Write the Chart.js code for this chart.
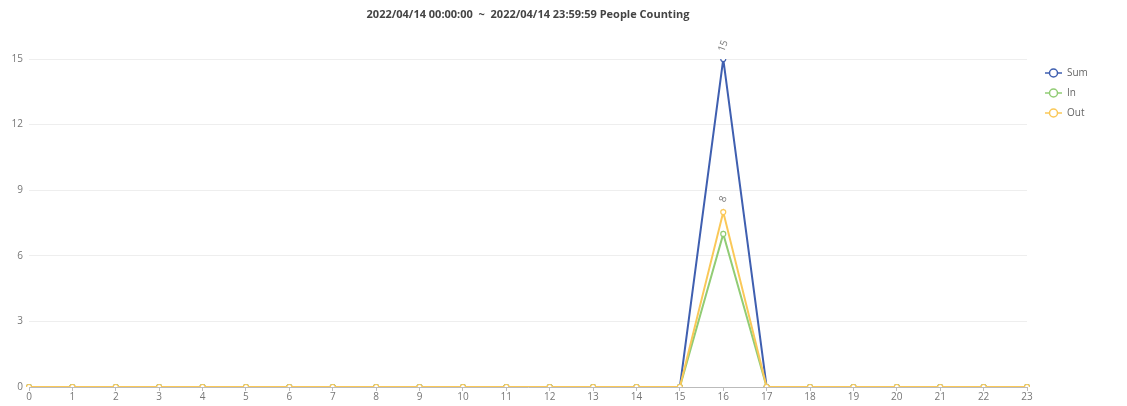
<!DOCTYPE html>
<html><head><meta charset="utf-8">
<script src="https://cdn.jsdelivr.net/npm/chart.js@4/dist/chart.umd.min.js"></script>
<style>html,body{margin:0;padding:0;background:#fff;}#wrap{width:1127px;height:406px;}</style>
</head><body><div id="wrap"><canvas id="c" width="1127" height="406"></canvas></div>
<script>
const categories = ["0","1","2","3","4","5","6","7","8","9","10","11","12","13","14","15","16","17","18","19","20","21","22","23"];
const sumValues = [0,0,0,0,0,0,0,0,0,0,0,0,0,0,0,0,15,0,0,0,0,0,0,0];
const inValues  = [0,0,0,0,0,0,0,0,0,0,0,0,0,0,0,0,7,0,0,0,0,0,0,0];
const outValues = [0,0,0,0,0,0,0,0,0,0,0,0,0,0,0,0,8,0,0,0,0,0,0,0];
const yTicks = [0,3,6,9,12,15];
const titleText = "2022/04/14 00:00:00  ~  2022/04/14 23:59:59 People Counting";
const seriesNames = ["Sum","In","Out"];
const colors = ["#3f5fb0","#91cc75","#fac858"];
const FONT = "'Open Sans', 'Noto Sans', sans-serif";

const extras = {
  id: 'extras',
  afterDraw(chart) {
    const ctx = chart.ctx, area = chart.chartArea;
    ctx.save();
    // title
    ctx.fillStyle = '#444';
    ctx.font = 'bold 11px ' + FONT;
    ctx.textAlign = 'center'; ctx.textBaseline = 'middle';
    ctx.fillText(titleText, (area.left + area.right) / 2, 15);
    // legend
    ctx.font = '10px ' + FONT;
    ctx.textAlign = 'left';
    seriesNames.forEach((n, i) => {
      const y = 73 + i * 20, x = 1045;
      ctx.strokeStyle = colors[i]; ctx.lineWidth = 1.5;
      ctx.beginPath(); ctx.moveTo(x, y); ctx.lineTo(x + 17, y); ctx.stroke();
      ctx.fillStyle = '#fff';
      ctx.beginPath(); ctx.arc(x + 8.5, y, 4, 0, Math.PI * 2); ctx.fill(); ctx.stroke();
      ctx.fillStyle = '#666';
      ctx.fillText(n, x + 22, y);
    });
    // data labels for non-zero points, rotated
    chart.data.datasets.forEach((ds, di) => {
      if (di === 1) return;
      const meta = chart.getDatasetMeta(di);
      meta.data.forEach((pt, i) => {
        const v = ds.data[i];
        if (!v) return;
        ctx.save();
        ctx.translate(pt.x, pt.y - 13);
        ctx.rotate(-70 * Math.PI / 180);
        ctx.fillStyle = '#777';
        ctx.font = '10px ' + FONT;
        ctx.textAlign = 'center'; ctx.textBaseline = 'middle';
        ctx.fillText(String(v), 0, 0);
        ctx.restore();
      });
    });
    ctx.restore();
  }
};

function ds(label, data, color, order) {
  return {
    label, data, borderColor: color, backgroundColor: '#fff',
    borderWidth: 2, pointRadius: 2.5, pointBorderWidth: 1.2,
    pointBackgroundColor: '#fff', pointBorderColor: color,
    tension: 0, order
  };
}

new Chart(document.getElementById('c'), {
  type: 'line',
  data: {
    labels: categories,
    datasets: [
      ds(seriesNames[0], sumValues, colors[0], 2),
      ds(seriesNames[1], inValues, colors[1], 1),
      ds(seriesNames[2], outValues, colors[2], 0)
    ]
  },
  options: {
    responsive: false, animation: false,
    layout: { padding: { top: 59, right: 100, left: 0, bottom: 0 } },
    plugins: { legend: { display: false }, title: { display: false }, tooltip: { enabled: false } },
    scales: {
      x: {
        offset: false,
        grid: { drawOnChartArea: false, drawTicks: true, tickLength: 4, color: '#bbb' },
        border: { color: '#bbb' },
        ticks: { color: '#777', font: { size: 10, family: FONT }, padding: 0, maxRotation: 0, autoSkip: false },
        afterFit(s) { s.height = 19; }
      },
      y: {
        min: 0, max: 15,
        afterBuildTicks(s) { s.ticks = yTicks.map(v => ({ value: v })); },
        grid: { color: '#eee', drawTicks: false },
        border: { display: false },
        ticks: { color: '#777', font: { size: 10, family: FONT }, padding: 6 },
        afterFit(s) { s.width = 29; }
      }
    }
  },
  plugins: [extras]
});
</script>
</body></html>
